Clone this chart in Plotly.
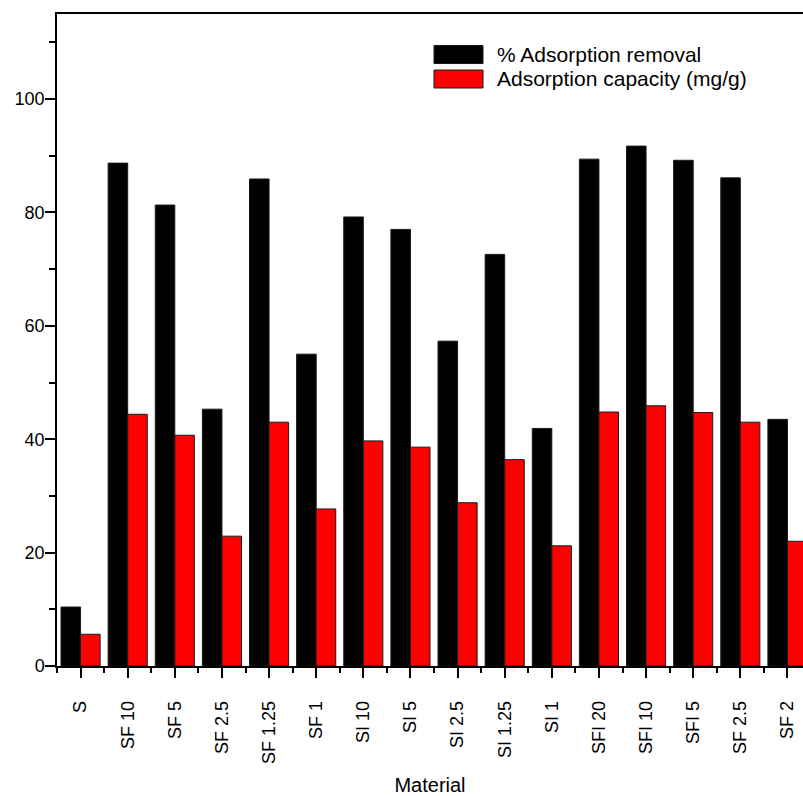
import plotly.graph_objects as go

# Adsorbent materials and their measured performance
materials = ["S", "SF 10", "SF 5", "SF 2.5", "SF 1.25", "SF 1", "SI 10", "SI 5",
             "SI 2.5", "SI 1.25", "SI 1", "SFI 20", "SFI 10", "SFI 5", "SF 2.5", "SF 2"]
removal_pct = [10.4, 88.7, 81.3, 45.3, 85.9, 55.0, 79.2, 77.0,
               57.3, 72.6, 41.9, 89.4, 91.7, 89.2, 86.1, 43.5]
capacity_mg_g = [5.6, 44.4, 40.7, 22.9, 43.0, 27.7, 39.7, 38.6,
                 28.8, 36.4, 21.2, 44.8, 45.9, 44.7, 43.0, 22.0]
y_ticks = [0, 20, 40, 60, 80, 100]

legend_labels = ["% Adsorption removal", "Adsorption capacity (mg/g)"]
colors = ["#000000", "#ff0000"]

FONT = "Liberation Sans, Arial, sans-serif"
W, H = 803, 796
ML, MR, MT, MB = 57, 0, 14, 130

xpos = list(range(len(materials)))

fig = go.Figure()
for name, vals, col in zip(legend_labels, [removal_pct, capacity_mg_g], colors):
    fig.add_trace(go.Bar(
        x=xpos, y=vals, name=name, showlegend=False,
        marker=dict(color=col, line=dict(color="#1a1a1a", width=1)),
    ))

fig.update_layout(
    width=W, height=H,
    margin=dict(l=ML, r=MR, t=MT, b=MB, pad=0),
    paper_bgcolor="white", plot_bgcolor="white",
    barmode="group", bargap=0.17, bargroupgap=0,
    font=dict(family=FONT, color="black"),
)

fig.update_xaxes(
    range=[-0.5, 15.33], automargin=False,
    tickmode="array", tickvals=xpos, ticktext=materials, tickangle=-90,
    ticks="outside", ticklen=10, tickwidth=1.5, tickcolor="black",
    minor=dict(ticks="outside", ticklen=5, tickwidth=1.5, tickcolor="black",
               tick0=0.5, dtick=1),
    tickfont=dict(size=18, family=FONT, color="black"),
    ticklabelstandoff=16,
    showline=True, linecolor="black", linewidth=1.5, mirror=True,
    showgrid=False, zeroline=False,
    title=dict(text="Material", font=dict(size=20, family=FONT, color="black"),
               standoff=21),
)
fig.update_yaxes(
    range=[0, 115], automargin=False,
    tickmode="array", tickvals=y_ticks,
    ticks="outside", ticklen=10, tickwidth=1.5, tickcolor="black",
    minor=dict(ticks="outside", ticklen=6, tickwidth=1.5, tickcolor="black",
               tick0=10, dtick=20),
    tickfont=dict(size=18, family=FONT, color="black"),
    ticklabelstandoff=-3,
    showline=True, linecolor="black", linewidth=1.5,
    showgrid=False, zeroline=False,
)

# Legend drawn as swatches plus labels in the upper right of the plot
pw, ph = W - ML - MR, H - MT - MB


def px_x(p):
    return (p - ML) / pw


def px_y(p):
    return (H - MB - p) / ph


rows = [(45.5, 63.5), (70.0, 88.0)]
for (y0, y1), col, label in zip(rows, colors, legend_labels):
    fig.add_shape(type="rect", xref="paper", yref="paper",
                  x0=px_x(434), x1=px_x(483), y0=px_y(y1), y1=px_y(y0),
                  fillcolor=col, line=dict(color="#1a1a1a", width=1))
    fig.add_annotation(xref="paper", yref="paper", x=px_x(495),
                       y=px_y((y0 + y1) / 2), text=label, showarrow=False,
                       xanchor="left", yanchor="middle",
                       font=dict(size=21, family=FONT, color="black"))

fig.write_html("out.html")
